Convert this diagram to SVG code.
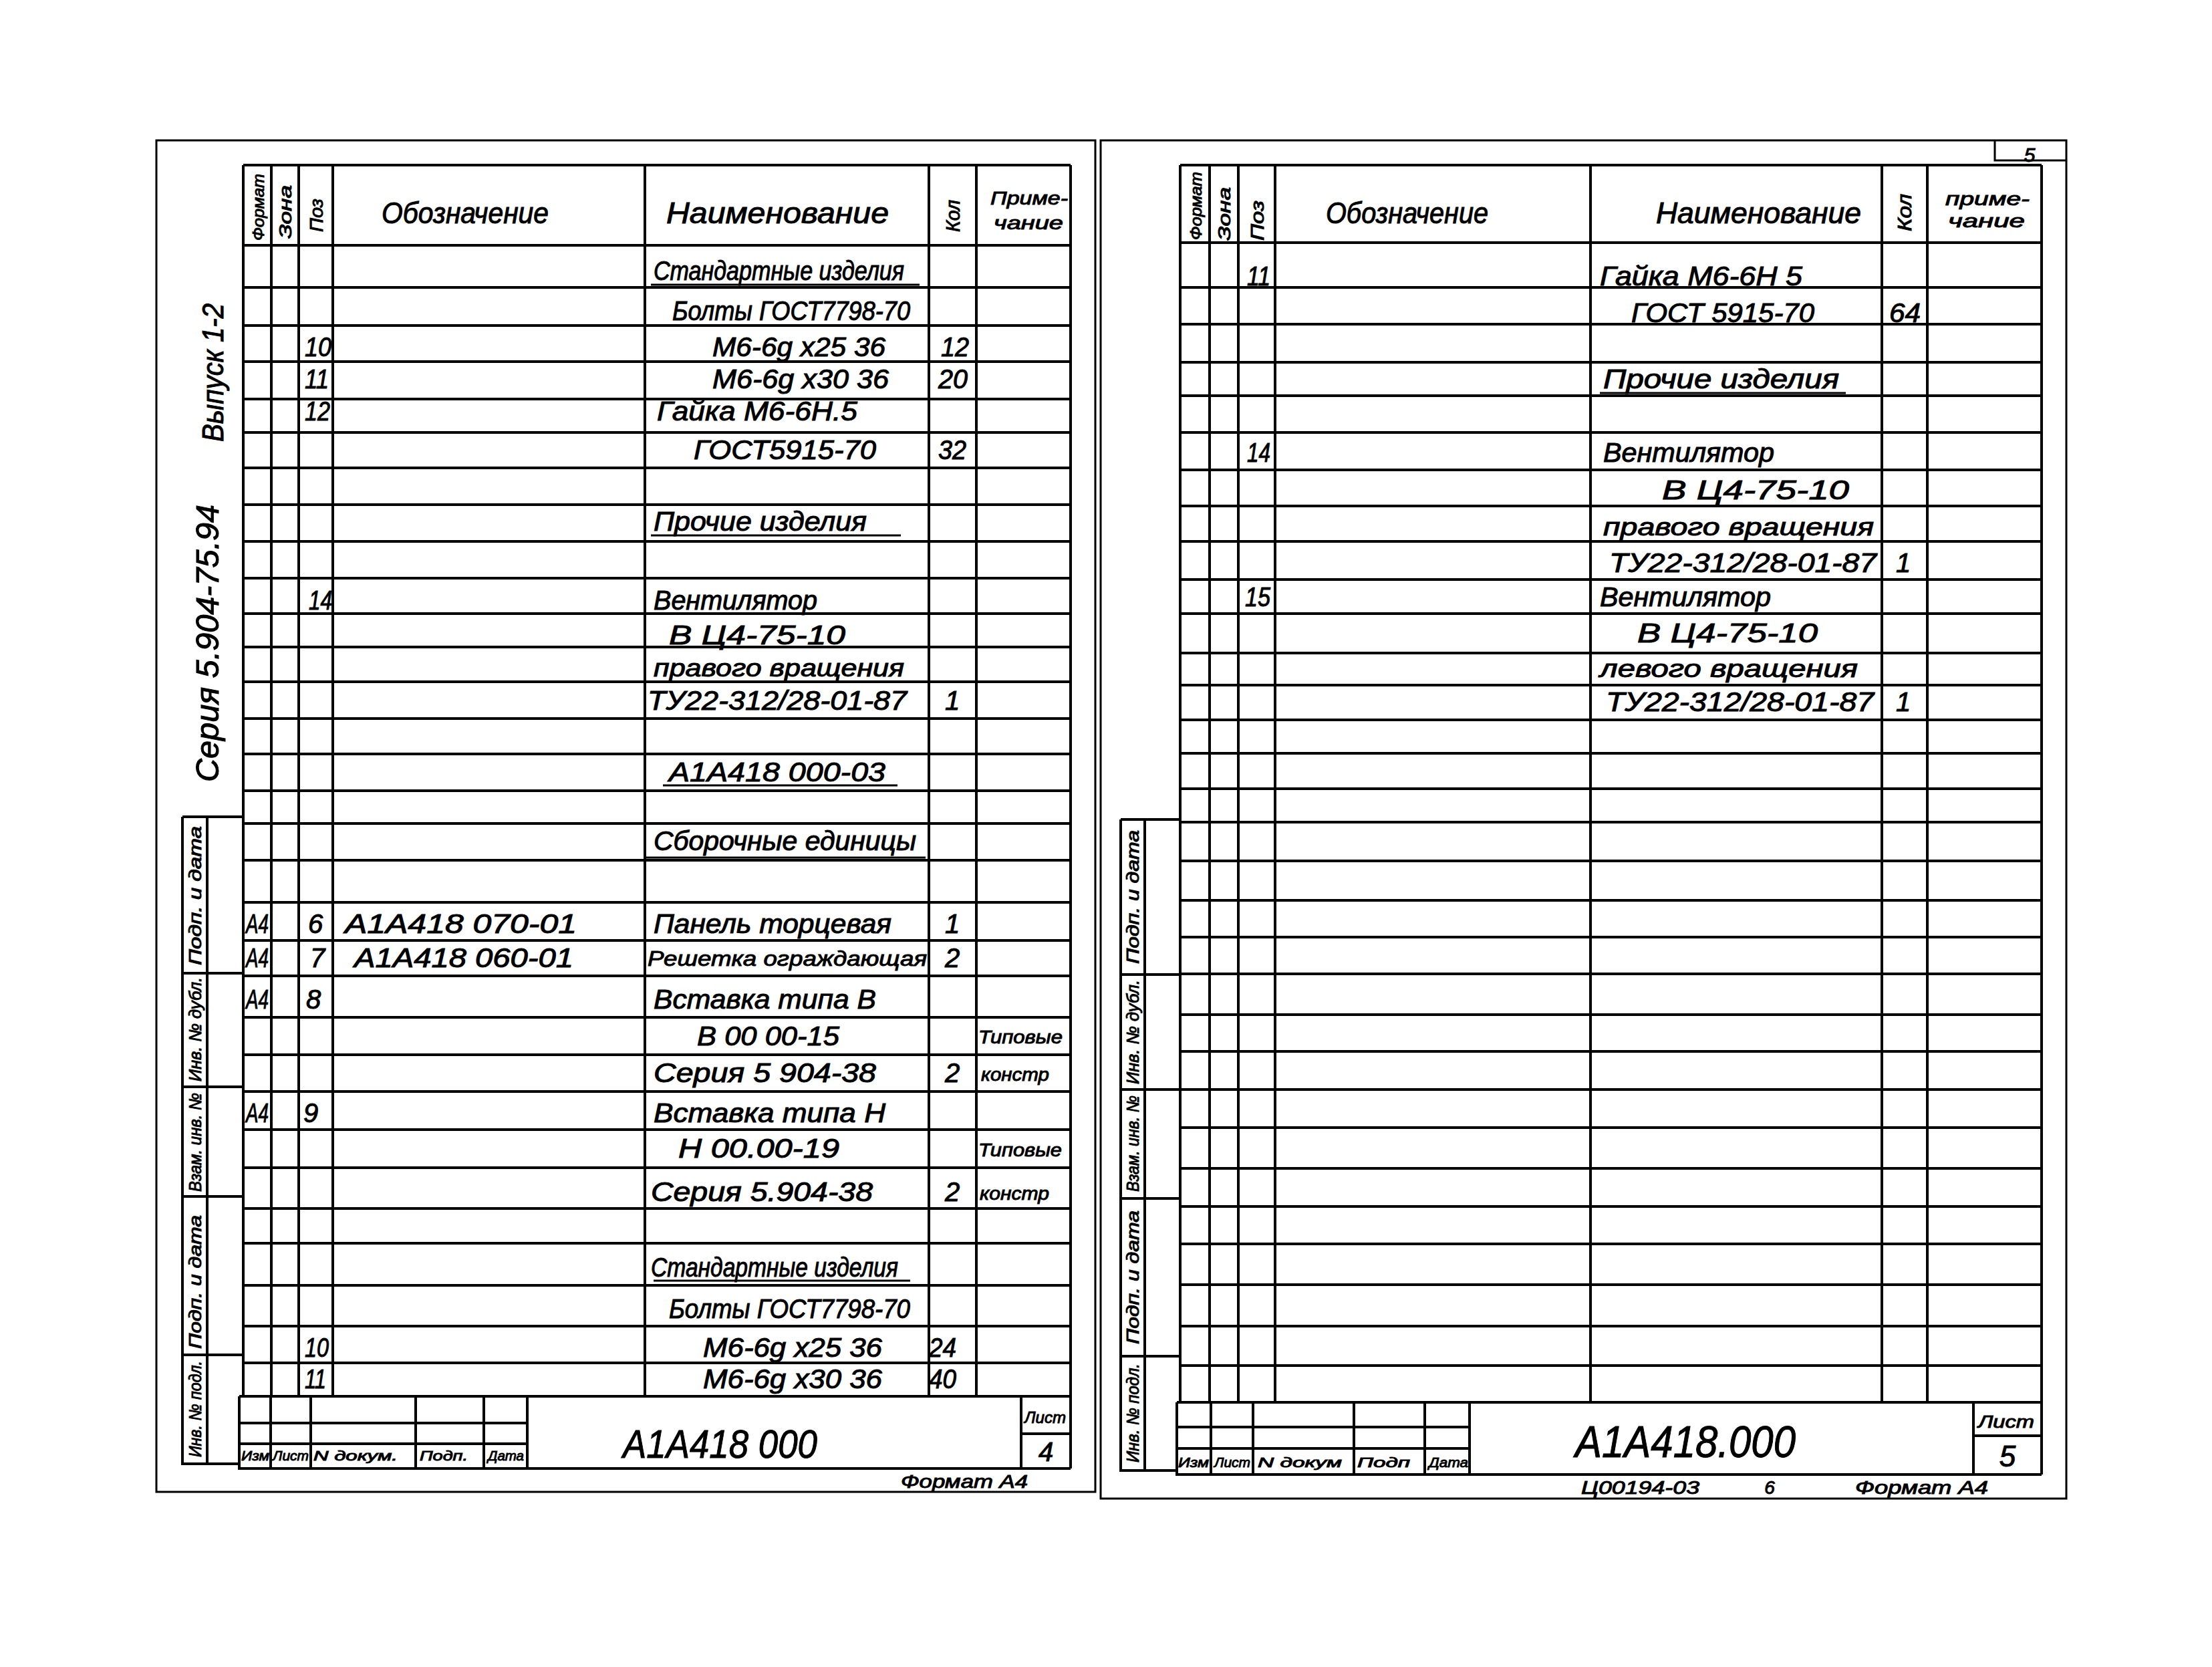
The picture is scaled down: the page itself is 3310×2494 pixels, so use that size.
<svg xmlns="http://www.w3.org/2000/svg" width="3310" height="2494" viewBox="0 0 3310 2494">
<style>
.t{font-family:"Liberation Sans","DejaVu Sans",sans-serif;font-style:italic;fill:#000;stroke:#000;stroke-width:1}
.h{font-size:44px}
.r{font-size:40px}
.m{font-size:28px}
.s{font-size:21px}
.k{font-size:26px}
.ln{stroke:#000;stroke-width:4;fill:none}
.th{stroke:#000;stroke-width:3;fill:none}
</style>
<rect x="0" y="0" width="3310" height="2494" fill="#fff"/>

<g id="frames">
<path class="th" d="M234 210 H1639 V2232 H234 Z"/>
<path class="th" d="M1647 210 H3092 V2242 H1647 Z"/>
<path class="th" d="M2985 210 V240 H3092"/>
</g>

<g id="left-table">
<path class="ln" d="M364 247 H1602 M364 367 H1602 M364 430 H1602 M364 487 H1602 M364 541 H1602 M364 597 H1602 M364 647 H1602 M364 700 H1602 M364 755 H1602 M364 810 H1602 M364 865 H1602 M364 918 H1602 M364 968 H1602 M364 1020 H1602 M364 1075 H1602 M364 1128 H1602 M364 1183 H1602 M364 1232 H1602 M364 1287 H1602 M364 1350 H1602 M364 1407 H1602 M364 1460 H1602 M364 1522 H1602 M364 1578 H1602 M364 1633 H1602 M364 1690 H1602 M364 1747 H1602 M364 1808 H1602 M364 1860 H1602 M364 1923 H1602 M364 1984 H1602 M364 2039 H1602 M358 2089 H1602"/>
<path class="ln" d="M364 247 V2089 M406 247 V2089 M447 247 V2089 M498 247 V2089 M965 247 V2089 M1390 247 V2089 M1461 247 V2089 M1602 247 V2197"/>
</g>

<g id="left-title">
<path class="ln" d="M358 2089 V2197 H1602 M405 2089 V2197 M465 2089 V2197 M622 2089 V2197 M724 2089 V2197 M789 2089 V2197 M1528 2089 V2197 M358 2129 H789 M358 2160 H789 M1528 2145 H1602"/>
<text class="t" x="932" y="2181" font-size="60" textLength="291" lengthAdjust="spacingAndGlyphs">А1А418 000</text>
<text class="t" x="1533" y="2129" font-size="24" textLength="62" lengthAdjust="spacingAndGlyphs">Лист</text>
<text class="t" x="1565" y="2186" font-size="40" text-anchor="middle">4</text>
<text class="t s" x="361" y="2185" textLength="42" lengthAdjust="spacingAndGlyphs">Изм</text>
<text class="t s" x="408" y="2185" textLength="54" lengthAdjust="spacingAndGlyphs">Лист</text>
<text class="t s" x="469" y="2185" textLength="126" lengthAdjust="spacingAndGlyphs">N докум.</text>
<text class="t s" x="628" y="2185" textLength="72" lengthAdjust="spacingAndGlyphs">Подп.</text>
<text class="t s" x="730" y="2185" textLength="54" lengthAdjust="spacingAndGlyphs">Дата</text>
<text class="t m" x="1348" y="2226" textLength="190" lengthAdjust="spacingAndGlyphs">Формат А4</text>
</g>

<g id="left-stamp">
<path class="ln" d="M273 1222 H364 M273 1222 V2190 H358 M310 1222 V2190 M273 1456 H364 M273 1626 H364 M273 1790 H364 M273 2027 H364"/>
<text class="t k" transform="translate(292,1340) rotate(-90)" x="-104" y="9" textLength="208" lengthAdjust="spacingAndGlyphs">Подп. и дата</text>
<text class="t k" transform="translate(292,1540) rotate(-90)" x="-78" y="9" textLength="156" lengthAdjust="spacingAndGlyphs">Инв. № дубл.</text>
<text class="t k" transform="translate(292,1709) rotate(-90)" x="-74" y="9" textLength="148" lengthAdjust="spacingAndGlyphs">Взам. инв. №</text>
<text class="t k" transform="translate(292,1918) rotate(-90)" x="-100" y="9" textLength="200" lengthAdjust="spacingAndGlyphs">Подп. и дата</text>
<text class="t k" transform="translate(292,2108) rotate(-90)" x="-72" y="9" textLength="144" lengthAdjust="spacingAndGlyphs">Инв. № подл.</text>
</g>

<g id="left-series">
<text class="t" font-size="48" transform="translate(310,963) rotate(-90)" x="-207" y="17" textLength="415" lengthAdjust="spacingAndGlyphs">Серия 5.904-75.94</text>
<text class="t" font-size="44" transform="translate(318,558) rotate(-90)" x="-103" y="16" textLength="207" lengthAdjust="spacingAndGlyphs">Выпуск 1-2</text>
</g>

<g id="left-header">
<text class="t h" x="571" y="334" textLength="250" lengthAdjust="spacingAndGlyphs">Обозначение</text>
<text class="t h" x="997" y="334" textLength="333" lengthAdjust="spacingAndGlyphs">Наименование</text>
<text class="t" font-size="24" transform="translate(386,310) rotate(-90)" x="-50" y="9" textLength="100" lengthAdjust="spacingAndGlyphs">Формат</text>
<text class="t" font-size="26" transform="translate(427,317) rotate(-90)" x="-40" y="9" textLength="80" lengthAdjust="spacingAndGlyphs">Зона</text>
<text class="t" font-size="28" transform="translate(473,322) rotate(-90)" x="-25" y="10" textLength="50" lengthAdjust="spacingAndGlyphs">Поз</text>
<text class="t" font-size="30" transform="translate(1426,323) rotate(-90)" x="-24" y="10" textLength="48" lengthAdjust="spacingAndGlyphs">Кол</text>
<text class="t m" x="1482" y="306" textLength="116" lengthAdjust="spacingAndGlyphs">Приме-</text>
<text class="t m" x="1487" y="343" textLength="104" lengthAdjust="spacingAndGlyphs">чание</text>
</g>

<g id="left-rows">
<text class="t r" x="978" y="419" textLength="375" lengthAdjust="spacingAndGlyphs">Стандартные изделия</text>
<path class="th" d="M974 426 H1376"/>
<text class="t r" x="1006" y="479" textLength="356" lengthAdjust="spacingAndGlyphs">Болты ГОСТ7798-70</text>
<text class="t r" x="456" y="533" textLength="40" lengthAdjust="spacingAndGlyphs">10</text>
<text class="t r" x="1066" y="533" textLength="259" lengthAdjust="spacingAndGlyphs">М6-6g х25 36</text>
<text class="t r" x="1408" y="533" textLength="42" lengthAdjust="spacingAndGlyphs">12</text>
<text class="t r" x="456" y="581" textLength="36" lengthAdjust="spacingAndGlyphs">11</text>
<text class="t r" x="1066" y="581" textLength="264" lengthAdjust="spacingAndGlyphs">М6-6g х30 36</text>
<text class="t r" x="1404" y="581" textLength="44" lengthAdjust="spacingAndGlyphs">20</text>
<text class="t r" x="456" y="629" textLength="38" lengthAdjust="spacingAndGlyphs">12</text>
<text class="t r" x="983" y="629" textLength="300" lengthAdjust="spacingAndGlyphs">Гайка М6-6Н.5</text>
<text class="t r" x="1038" y="687" textLength="273" lengthAdjust="spacingAndGlyphs">ГОСТ5915-70</text>
<text class="t r" x="1404" y="687" textLength="42" lengthAdjust="spacingAndGlyphs">32</text>
<text class="t r" x="978" y="794" textLength="319" lengthAdjust="spacingAndGlyphs">Прочие изделия</text>
<path class="th" d="M974 801 H1348"/>
<text class="t r" x="462" y="912" textLength="35" lengthAdjust="spacingAndGlyphs">14</text>
<text class="t r" x="978" y="912" textLength="245" lengthAdjust="spacingAndGlyphs">Вентилятор</text>
<text class="t r" x="1001" y="964" textLength="264" lengthAdjust="spacingAndGlyphs">В Ц4-75-10</text>
<text class="t" font-size="36" x="978" y="1012" textLength="375" lengthAdjust="spacingAndGlyphs">правого вращения</text>
<text class="t r" x="969" y="1062" textLength="388" lengthAdjust="spacingAndGlyphs">ТУ22-312/28-01-87</text>
<text class="t r" x="1425" y="1062" text-anchor="middle">1</text>
<text class="t r" x="1001" y="1169" textLength="324" lengthAdjust="spacingAndGlyphs">А1А418 000-03</text>
<path class="th" d="M992 1175 H1343"/>
<text class="t r" x="978" y="1272" textLength="393" lengthAdjust="spacingAndGlyphs">Сборочные единицы</text>
<path class="th" d="M964 1283 H1385"/>
<text class="t r" x="368" y="1396" textLength="34" lengthAdjust="spacingAndGlyphs">А4</text>
<text class="t r" x="472" y="1396" text-anchor="middle">6</text>
<text class="t r" x="516" y="1396" textLength="347" lengthAdjust="spacingAndGlyphs">А1А418 070-01</text>
<text class="t r" x="978" y="1396" textLength="356" lengthAdjust="spacingAndGlyphs">Панель торцевая</text>
<text class="t r" x="1425" y="1396" text-anchor="middle">1</text>
<text class="t r" x="368" y="1447" textLength="34" lengthAdjust="spacingAndGlyphs">А4</text>
<text class="t r" x="475" y="1447" text-anchor="middle">7</text>
<text class="t r" x="530" y="1447" textLength="328" lengthAdjust="spacingAndGlyphs">А1А418 060-01</text>
<text class="t" font-size="32" x="969" y="1445" textLength="418" lengthAdjust="spacingAndGlyphs">Решетка ограждающая</text>
<text class="t r" x="1425" y="1447" text-anchor="middle">2</text>
<text class="t r" x="368" y="1509" textLength="34" lengthAdjust="spacingAndGlyphs">А4</text>
<text class="t r" x="469" y="1509" text-anchor="middle">8</text>
<text class="t r" x="978" y="1509" textLength="333" lengthAdjust="spacingAndGlyphs">Вставка типа В</text>
<text class="t r" x="1043" y="1564" textLength="213" lengthAdjust="spacingAndGlyphs">В 00 00-15</text>
<text class="t m" x="1464" y="1561" textLength="126" lengthAdjust="spacingAndGlyphs">Типовые</text>
<text class="t r" x="978" y="1619" textLength="333" lengthAdjust="spacingAndGlyphs">Серия 5 904-38</text>
<text class="t r" x="1425" y="1619" text-anchor="middle">2</text>
<text class="t m" x="1468" y="1617" textLength="102" lengthAdjust="spacingAndGlyphs">констр</text>
<text class="t r" x="368" y="1679" textLength="34" lengthAdjust="spacingAndGlyphs">А4</text>
<text class="t r" x="465" y="1679" text-anchor="middle">9</text>
<text class="t r" x="978" y="1679" textLength="347" lengthAdjust="spacingAndGlyphs">Вставка типа Н</text>
<text class="t r" x="1015" y="1732" textLength="241" lengthAdjust="spacingAndGlyphs">Н 00.00-19</text>
<text class="t m" x="1464" y="1730" textLength="125" lengthAdjust="spacingAndGlyphs">Типовые</text>
<text class="t r" x="974" y="1797" textLength="332" lengthAdjust="spacingAndGlyphs">Серия 5.904-38</text>
<text class="t r" x="1425" y="1797" text-anchor="middle">2</text>
<text class="t m" x="1466" y="1795" textLength="104" lengthAdjust="spacingAndGlyphs">констр</text>
<text class="t r" x="974" y="1910" textLength="370" lengthAdjust="spacingAndGlyphs">Стандартные изделия</text>
<path class="th" d="M978 1916 H1362"/>
<text class="t r" x="1001" y="1972" textLength="361" lengthAdjust="spacingAndGlyphs">Болты ГОСТ7798-70</text>
<text class="t r" x="456" y="2030" textLength="36" lengthAdjust="spacingAndGlyphs">10</text>
<text class="t r" x="1052" y="2030" textLength="268" lengthAdjust="spacingAndGlyphs">М6-6g х25 36</text>
<text class="t r" x="1390" y="2030" textLength="41" lengthAdjust="spacingAndGlyphs">24</text>
<text class="t r" x="456" y="2077" textLength="32" lengthAdjust="spacingAndGlyphs">11</text>
<text class="t r" x="1052" y="2077" textLength="268" lengthAdjust="spacingAndGlyphs">М6-6g х30 36</text>
<text class="t r" x="1390" y="2077" textLength="41" lengthAdjust="spacingAndGlyphs">40</text>
</g>

<g id="right-table">
<path class="ln" d="M1766 247 H3055 M1766 363 H3055 M1766 430 H3055 M1766 485 H3055 M1766 542 H3055 M1766 592 H3055 M1766 647 H3055 M1766 703 H3055 M1766 757 H3055 M1766 810 H3055 M1766 867 H3055 M1766 918 H3055 M1766 977 H3055 M1766 1025 H3055 M1766 1077 H3055 M1766 1127 H3055 M1766 1180 H3055 M1766 1230 H3055 M1766 1288 H3055 M1766 1347 H3055 M1766 1402 H3055 M1766 1457 H3055 M1766 1518 H3055 M1766 1573 H3055 M1766 1630 H3055 M1766 1687 H3055 M1766 1748 H3055 M1766 1805 H3055 M1766 1861 H3055 M1766 1922 H3055 M1766 1984 H3055 M1766 2043 H3055 M1761 2098 H3055"/>
<path class="ln" d="M1766 247 V2098 M1810 247 V2098 M1853 247 V2098 M1908 247 V2098 M2380 247 V2098 M2816 247 V2098 M2884 247 V2098 M3055 247 V2206"/>
</g>

<g id="right-title">
<path class="ln" d="M1761 2098 V2206 H3055 M1812 2098 V2206 M1875 2098 V2206 M2026 2098 V2206 M2132 2098 V2206 M2199 2098 V2206 M2953 2098 V2206 M1761 2135 H2199 M1761 2167 H2199 M2953 2148 H3055"/>
<text class="t" x="2357" y="2180" font-size="66" textLength="330" lengthAdjust="spacingAndGlyphs">А1А418.000</text>
<text class="t" x="2960" y="2136" font-size="26" textLength="84" lengthAdjust="spacingAndGlyphs">Лист</text>
<text class="t" x="3004" y="2194" font-size="44" text-anchor="middle">5</text>
<text class="t s" x="1763" y="2195" textLength="46" lengthAdjust="spacingAndGlyphs">Изм</text>
<text class="t s" x="1817" y="2195" textLength="54" lengthAdjust="spacingAndGlyphs">Лист</text>
<text class="t s" x="1882" y="2195" textLength="126" lengthAdjust="spacingAndGlyphs">N докум</text>
<text class="t s" x="2031" y="2195" textLength="79" lengthAdjust="spacingAndGlyphs">Подп</text>
<text class="t s" x="2138" y="2195" textLength="59" lengthAdjust="spacingAndGlyphs">Дата</text>
<text class="t m" x="2366" y="2235" textLength="177" lengthAdjust="spacingAndGlyphs">Ц00194-03</text>
<text class="t m" x="2648" y="2235" text-anchor="middle">6</text>
<text class="t m" x="2776" y="2235" textLength="199" lengthAdjust="spacingAndGlyphs">Формат А4</text>
<text class="t" x="3037" y="242" font-size="30" text-anchor="middle">5</text>
</g>

<g id="right-stamp">
<path class="ln" d="M1677 1226 H1766 M1677 1226 V2200 H1761 M1713 1226 V2200 M1677 1458 H1766 M1677 1630 H1766 M1677 1793 H1766 M1677 2029 H1766"/>
<text class="t k" transform="translate(1695,1342) rotate(-90)" x="-100" y="9" textLength="200" lengthAdjust="spacingAndGlyphs">Подп. и дата</text>
<text class="t k" transform="translate(1695,1544) rotate(-90)" x="-78" y="9" textLength="156" lengthAdjust="spacingAndGlyphs">Инв. № дубл.</text>
<text class="t k" transform="translate(1695,1711) rotate(-90)" x="-72" y="9" textLength="144" lengthAdjust="spacingAndGlyphs">Взам. инв. №</text>
<text class="t k" transform="translate(1695,1911) rotate(-90)" x="-100" y="9" textLength="200" lengthAdjust="spacingAndGlyphs">Подп. и дата</text>
<text class="t k" transform="translate(1695,2114) rotate(-90)" x="-74" y="9" textLength="148" lengthAdjust="spacingAndGlyphs">Инв. № подл.</text>
</g>

<g id="right-header">
<text class="t h" x="1984" y="334" textLength="243" lengthAdjust="spacingAndGlyphs">Обозначение</text>
<text class="t h" x="2478" y="334" textLength="307" lengthAdjust="spacingAndGlyphs">Наименование</text>
<text class="t" font-size="24" transform="translate(1789,308) rotate(-90)" x="-51" y="9" textLength="102" lengthAdjust="spacingAndGlyphs">Формат</text>
<text class="t" font-size="26" transform="translate(1832,320) rotate(-90)" x="-40" y="9" textLength="80" lengthAdjust="spacingAndGlyphs">Зона</text>
<text class="t" font-size="28" transform="translate(1881,330) rotate(-90)" x="-30" y="10" textLength="60" lengthAdjust="spacingAndGlyphs">Поз</text>
<text class="t" font-size="30" transform="translate(2850,318) rotate(-90)" x="-28" y="10" textLength="56" lengthAdjust="spacingAndGlyphs">Кол</text>
<text class="t m" x="2911" y="307" textLength="126" lengthAdjust="spacingAndGlyphs">приме-</text>
<text class="t m" x="2915" y="340" textLength="115" lengthAdjust="spacingAndGlyphs">чание</text>
</g>

<g id="right-rows">
<text class="t r" x="1866" y="427" textLength="35" lengthAdjust="spacingAndGlyphs">11</text>
<text class="t r" x="2394" y="427" textLength="303" lengthAdjust="spacingAndGlyphs">Гайка М6-6Н 5</text>
<text class="t r" x="2441" y="482" textLength="274" lengthAdjust="spacingAndGlyphs">ГОСТ 5915-70</text>
<text class="t r" x="2827" y="482" textLength="47" lengthAdjust="spacingAndGlyphs">64</text>
<text class="t r" x="2399" y="581" textLength="353" lengthAdjust="spacingAndGlyphs">Прочие изделия</text>
<path class="th" d="M2394 588 H2762"/>
<text class="t r" x="1866" y="691" textLength="35" lengthAdjust="spacingAndGlyphs">14</text>
<text class="t r" x="2399" y="691" textLength="256" lengthAdjust="spacingAndGlyphs">Вентилятор</text>
<text class="t r" x="2487" y="747" textLength="280" lengthAdjust="spacingAndGlyphs">В Ц4-75-10</text>
<text class="t" font-size="36" x="2399" y="801" textLength="405" lengthAdjust="spacingAndGlyphs">правого вращения</text>
<text class="t r" x="2408" y="856" textLength="400" lengthAdjust="spacingAndGlyphs">ТУ22-312/28-01-87</text>
<text class="t r" x="2848" y="856" text-anchor="middle">1</text>
<text class="t r" x="1863" y="907" textLength="38" lengthAdjust="spacingAndGlyphs">15</text>
<text class="t r" x="2394" y="907" textLength="256" lengthAdjust="spacingAndGlyphs">Вентилятор</text>
<text class="t r" x="2450" y="961" textLength="270" lengthAdjust="spacingAndGlyphs">В Ц4-75-10</text>
<text class="t" font-size="36" x="2394" y="1013" textLength="386" lengthAdjust="spacingAndGlyphs">левого вращения</text>
<text class="t r" x="2403" y="1064" textLength="401" lengthAdjust="spacingAndGlyphs">ТУ22-312/28-01-87</text>
<text class="t r" x="2848" y="1064" text-anchor="middle">1</text>
</g>
</svg>
